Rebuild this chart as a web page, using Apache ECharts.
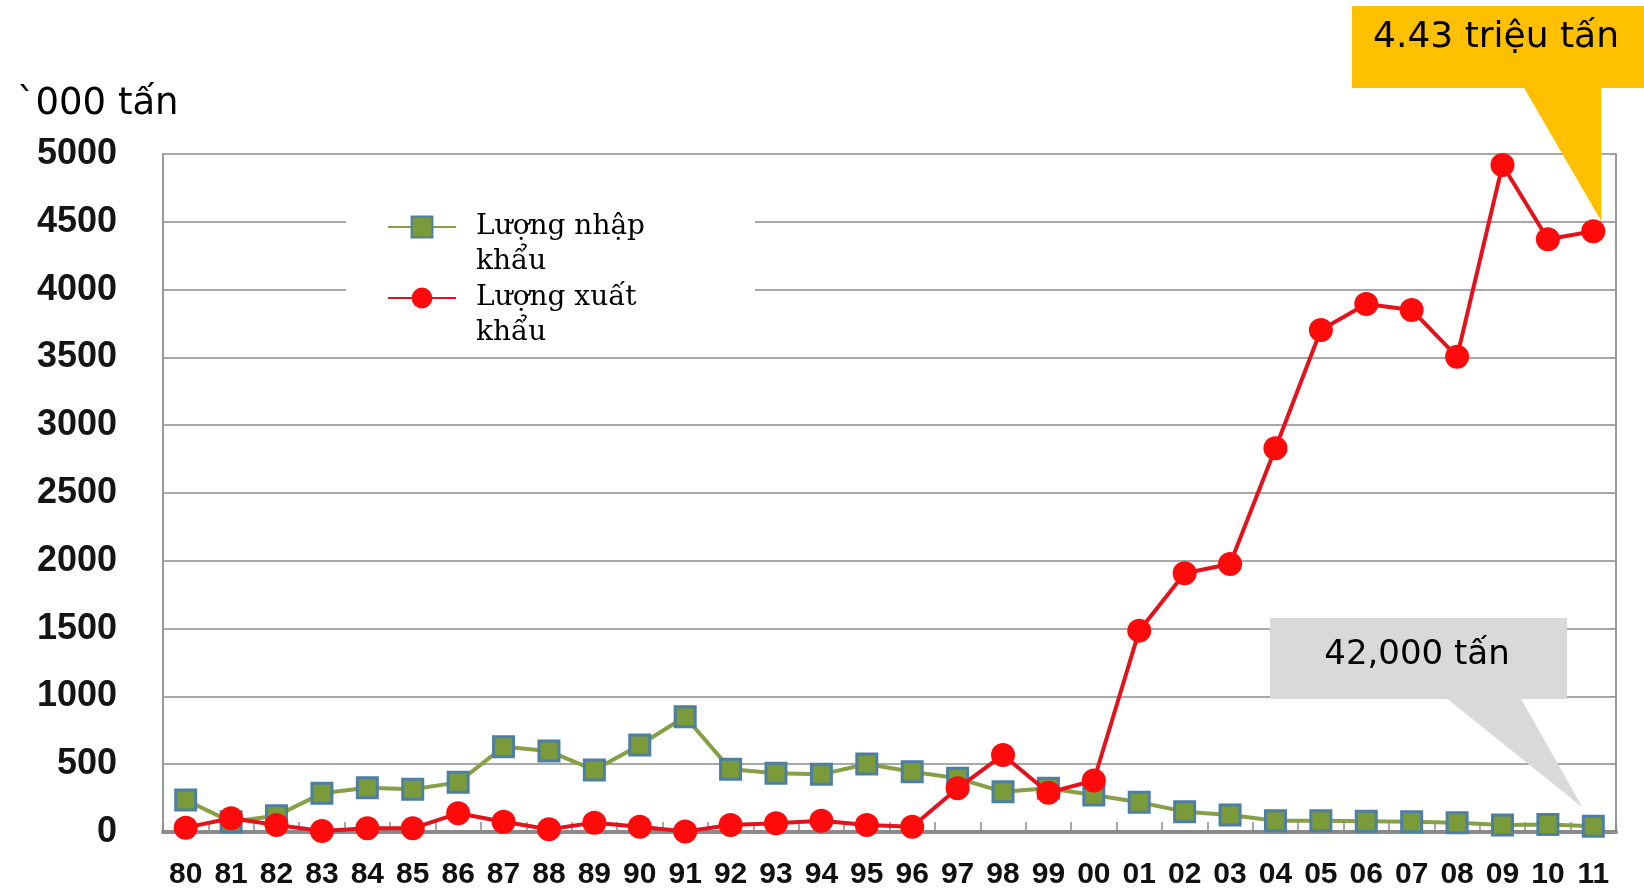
<!DOCTYPE html>
<html>
<head>
<meta charset="utf-8">
<script src="https://cdn.jsdelivr.net/npm/echarts@6/dist/echarts.min.js"></script>
<style>
html,body{margin:0;padding:0;background:#fff;}
#chart{width:1644px;height:890px;}
</style>
</head>
<body>
<div id="chart"></div>
<script>
const years = ['80','81','82','83','84','85','86','87','88','89','90','91','92','93','94','95','96','97','98','99','00','01','02','03','04','05','06','07','08','09','10','11'];
const importValues = [236,75,120,285,327,315,366,629,597,457,642,850,462,433,425,501,445,396,297,323,273,219,150,125,83,83,80,76,69,52,55,42];
const exportValues = [32,101,52,7,27,27,138,76,20,69,39,3,52,64,83,52,39,322,568,290,380,1485,1908,1976,2830,3702,3894,3850,3505,4919,4371,4430];
const yTicks = { min: 0, max: 5000, interval: 500 };
const seriesNames = ['Lượng nhập khẩu', 'Lượng xuất khẩu'];
const legendLabels = { 'Lượng nhập khẩu': ' \nLượng nhập\nkhẩu', 'Lượng xuất khẩu': ' \nLượng xuất\nkhẩu' };
const unitLabel = '`000 tấn';
const exportNote = '4.43 triệu tấn';
const importNote = '42,000 tấn';

const chart = echarts.init(document.getElementById('chart'));
const option = {
  backgroundColor: '#fff',
  animation: false,
  title: {
    text: unitLabel, left: 12, top: 81,
    textStyle: { fontFamily: 'DejaVu Sans', fontSize: 37, fontWeight: 'normal', color: '#000' }
  },
  grid: { left: 163, right: 28, top: 154, bottom: 58, containLabel: false },
  legend: {
    orient: 'vertical', left: 346, top: 168,
    padding: [5, 110, 4, 41],
    backgroundColor: '#fff',
    itemWidth: 68, itemHeight: 26, itemGap: -37,
    formatter: name => legendLabels[name],
    textStyle: { fontFamily: 'DejaVu Serif', fontSize: 28, lineHeight: 35, color: '#000', padding: [3, 0, 0, 15] },
    data: seriesNames
  },
  xAxis: {
    type: 'category', data: years, boundaryGap: true,
    axisLine: { lineStyle: { color: '#8a8a8a', width: 4 } },
    axisTick: { show: true, inside: true, length: 10, lineStyle: { color: '#8a8a8a', width: 1.5 } },
    axisLabel: { margin: 28, fontFamily: "'Liberation Sans Narrow', 'Arial Narrow', 'Liberation Sans'", fontWeight: 'bold', fontSize: 30, color: '#111' }
  },
  yAxis: [{
    type: 'value', min: yTicks.min, max: yTicks.max, interval: yTicks.interval,
    axisLine: { show: true, lineStyle: { color: '#999', width: 2 } },
    axisTick: { show: false },
    splitLine: { lineStyle: { color: '#a8a8a8', width: 2 } },
    axisLabel: { margin: 46, formatter: v => String(v), fontFamily: 'Liberation Sans', fontWeight: 'bold', fontSize: 36, color: '#151515' }
  }, {
    type: 'value', position: 'right', min: yTicks.min, max: yTicks.max, interval: yTicks.interval,
    axisLine: { show: true, lineStyle: { color: '#999', width: 2 } },
    axisTick: { show: true, inside: true, length: 6, lineStyle: { color: '#999' } },
    axisLabel: { show: false }, splitLine: { show: false }
  }],
  series: [{
    name: seriesNames[0], type: 'line', data: importValues,
    symbol: 'rect', symbolSize: 20,
    lineStyle: { color: '#879f45', width: 4 },
    itemStyle: { color: '#7b9a3a', borderColor: '#4d7fa4', borderWidth: 3 },
    z: 2
  }, {
    name: seriesNames[1], type: 'line', data: exportValues,
    symbol: 'circle', symbolSize: 24,
    lineStyle: { color: '#e3121b', width: 4 },
    itemStyle: { color: '#ff0a0a', borderColor: '#ff0a0a', borderWidth: 0 },
    z: 3
  }]
};
chart.setOption(option);

const last = years.length - 1;
const pe = chart.convertToPixel({ seriesIndex: 1 }, [last, exportValues[last]]);
const pi = chart.convertToPixel({ seriesIndex: 0 }, [last, importValues[last]]);
const ye = [pe[0] + 8, pe[1] - 10];
const gi = [pi[0] - 11, pi[1] - 19];
chart.setOption({
  graphic: [
    { type: 'polygon', z: 100, shape: { points: [[1523, 86], [ye[0], 86], ye] }, style: { fill: '#ffc000' } },
    { type: 'rect', z: 100, shape: { x: 1352, y: 6, width: 300, height: 82 }, style: { fill: '#ffc000' } },
    { type: 'text', z: 101, x: 1496, y: 38, style: { text: exportNote, fontFamily: 'DejaVu Sans', fontSize: 36, fill: '#000', align: 'center', verticalAlign: 'middle' } },
    { type: 'polygon', z: 100, shape: { points: [[1445, 697], [1520, 697], gi] }, style: { fill: '#d9d9d9' } },
    { type: 'rect', z: 100, shape: { x: 1270, y: 618, width: 297, height: 81 }, style: { fill: '#d9d9d9' } },
    { type: 'text', z: 101, x: 1417, y: 655, style: { text: importNote, fontFamily: 'DejaVu Sans', fontSize: 34, fill: '#000', align: 'center', verticalAlign: 'middle' } }
  ]
});
</script>
</body>
</html>
